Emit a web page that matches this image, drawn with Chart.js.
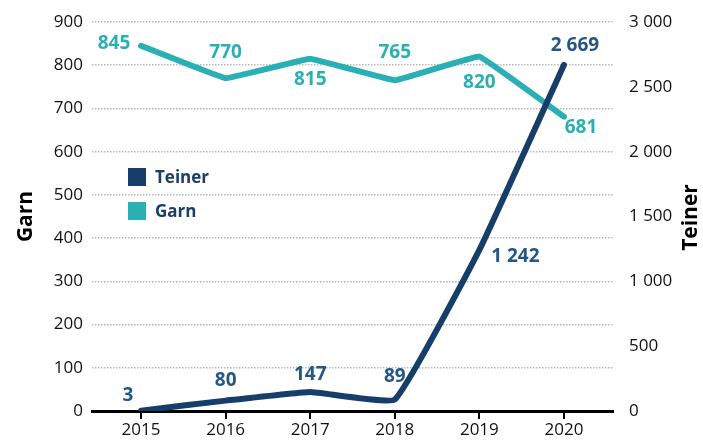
<!DOCTYPE html>
<html>
<head>
<meta charset="utf-8">
<script src="https://cdn.jsdelivr.net/npm/chart.js@4.4.1/dist/chart.umd.min.js"></script>
<style>
  html, body { margin: 0; padding: 0; background: #fff; }
  #wrap { position: relative; width: 703px; height: 442px; }
</style>
</head>
<body>
<div id="wrap"><canvas id="chart"></canvas></div>
<script>
// ---------------------------------------------------------------------------
// DATA
// ---------------------------------------------------------------------------
const YEARS = [2015, 2016, 2017, 2018, 2019, 2020]
const GARN = [845, 770, 815, 765, 820, 681]
const TEINER = [3, 80, 147, 89, 1242, 2669]
const GARN_TICKS = [0, 100, 200, 300, 400, 500, 600, 700, 800, 900]
const TEINER_TICKS = [0, 500, 1000, 1500, 2000, 2500, 3000]

// label offsets from the point, in px [dx, dy]
const GARN_LABEL_OFFSETS = [[-27, -2], [0, -26], [0, 21], [0, -28], [0, 26], [17, 11]]
const TEINER_LABEL_OFFSETS = [[-13, -15], [0, -20], [0, -17], [0, -23], [36, 7], [11, -19]]

const TEAL = '#2AB0B4'
const NAVY = '#173E69'
const NAVY_TEXT = '#245686'
const FONT = '"Open Sans", "DejaVu Sans", sans-serif'

const fmtSpace = v => String(v).replace(/\B(?=(\d{3})+(?!\d))/g, ' ')

// ---------------------------------------------------------------------------
// PLUGINS
// ---------------------------------------------------------------------------
const pointLabels = {
    id: 'pointLabels',
    afterDatasetsDraw(chart) {
        const ctx = chart.ctx
        ctx.save()
        ctx.font = 'bold 19px ' + FONT
        ctx.textAlign = 'center'
        ctx.textBaseline = 'middle'
        chart.data.datasets.forEach((ds, i) => {
            const meta = chart.getDatasetMeta(i)
            meta.data.forEach((pt, j) => {
                const off = ds.labelOffsets[j]
                ctx.fillStyle = ds.labelColor
                ctx.fillText(fmtSpace(ds.data[j].y), pt.x + off[0], pt.y + off[1])
            })
        })
        ctx.restore()
    },
}

const extras = {
    id: 'extras',
    afterDraw(chart) {
        const ctx = chart.ctx
        const area = chart.chartArea
        const midY = (area.top + area.bottom) / 2
        ctx.save()
        // axis titles, both reading bottom to top
        ctx.font = 'bold 21px ' + FONT
        ctx.fillStyle = '#000'
        ctx.textAlign = 'center'
        ctx.textBaseline = 'middle'
        ctx.translate(26, midY)
        ctx.rotate(-Math.PI / 2)
        ctx.fillText('Garn', 0, 0)
        ctx.restore()
        ctx.save()
        ctx.font = 'bold 21px ' + FONT
        ctx.fillStyle = '#000'
        ctx.textAlign = 'center'
        ctx.textBaseline = 'middle'
        ctx.translate(691, midY + 1)
        ctx.rotate(-Math.PI / 2)
        ctx.fillText('Teiner', 0, 0)
        ctx.restore()

        // legend
        ctx.save()
        const items = [['Teiner', NAVY], ['Garn', TEAL]]
        ctx.font = 'bold 17px ' + FONT
        ctx.textBaseline = 'middle'
        items.forEach((it, k) => {
            const y = 168 + k * 34
            ctx.fillStyle = it[1]
            ctx.fillRect(128, y, 18, 18)
            ctx.fillStyle = '#1B3D66'
            ctx.fillText(it[0], 155, y + 10)
        })
        ctx.restore()
    },
}

// ---------------------------------------------------------------------------
// CHART
// ---------------------------------------------------------------------------
const toPoints = arr => arr.map((v, i) => ({ x: YEARS[i], y: v }))

new Chart(document.getElementById('chart'), {
    type: 'line',
    data: {
        datasets: [
            {
                label: 'Teiner',
                data: toPoints(TEINER),
                yAxisID: 'yR',
                borderColor: NAVY,
                borderWidth: 6,
                pointRadius: 0,
                tension: 0.1,
                borderCapStyle: 'round',
                labelColor: NAVY_TEXT,
                labelOffsets: TEINER_LABEL_OFFSETS,
            },
            {
                label: 'Garn',
                data: toPoints(GARN),
                yAxisID: 'y',
                borderColor: TEAL,
                borderWidth: 6,
                pointRadius: 0,
                tension: 0.05,
                borderCapStyle: 'round',
                labelColor: TEAL,
                labelOffsets: GARN_LABEL_OFFSETS,
            },
        ],
    },
    options: {
        responsive: true,
        maintainAspectRatio: false,
        animation: false,
        layout: { padding: { top: 22, left: 0, right: 0, bottom: 0 } },
        plugins: {
            legend: { display: false },
            tooltip: { enabled: false },
        },
        scales: {
            x: {
                type: 'linear',
                min: 2014.42,
                max: 2020.58,
                afterBuildTicks: scale => { scale.ticks = YEARS.map(v => ({ value: v })) },
                afterFit: scale => { scale.height = 31 },
                ticks: {
                    callback: v => String(v),
                    color: '#111',
                    font: { family: FONT, size: 17 },
                    padding: 1,
                },
                grid: {
                    drawOnChartArea: false,
                    drawTicks: true,
                    tickLength: 8,
                    color: '#000',
                    lineWidth: 2,
                },
                border: { display: true, color: '#000', width: 3 },
            },
            y: {
                position: 'left',
                min: 0,
                max: 900,
                afterBuildTicks: scale => { scale.ticks = GARN_TICKS.map(v => ({ value: v })) },
                afterFit: scale => { scale.width = 92 },
                ticks: {
                    color: '#111',
                    font: { family: FONT, size: 17 },
                    padding: 9,
                },
                grid: {
                    drawTicks: false,
                    color: ctx => ctx.tick && ctx.tick.value === 0 ? 'rgba(0,0,0,0)' : '#b8b8b8',
                    lineWidth: 1.5,
                },
                border: { display: false, dash: [1.5, 1.5] },
            },
            yR: {
                position: 'right',
                min: 0,
                max: 3000,
                afterBuildTicks: scale => { scale.ticks = TEINER_TICKS.map(v => ({ value: v })) },
                afterFit: scale => { scale.width = 90 },
                ticks: {
                    callback: v => fmtSpace(v),
                    color: '#111',
                    font: { family: FONT, size: 17 },
                    padding: 8,
                },
                grid: { display: false, drawOnChartArea: false },
                border: { display: false },
            },
        },
    },
    plugins: [pointLabels, extras],
})
</script>
</body>
</html>
